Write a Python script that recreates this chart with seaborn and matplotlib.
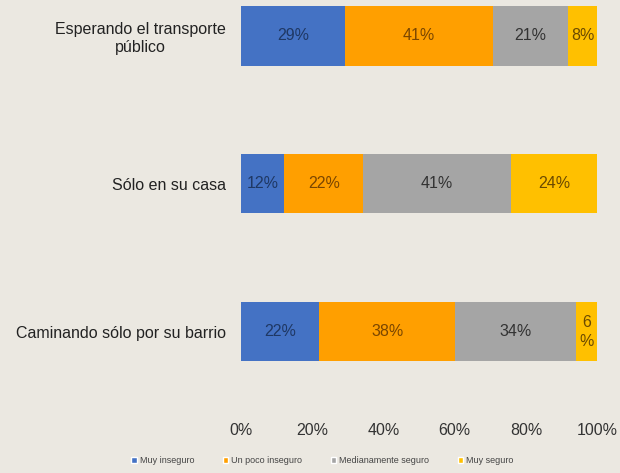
import numpy as np
import pandas as pd
import matplotlib
matplotlib.use("Agg")
import matplotlib.pyplot as plt
import seaborn as sns
from matplotlib.patches import Patch

# data
situaciones = ["Esperando el transporte\npúblico", "Sólo en su casa", "Caminando sólo por su barrio"]
niveles = ["Muy inseguro", "Un poco inseguro", "Medianamente seguro", "Muy seguro"]
muy_inseguro = [29, 12, 22]
poco_inseguro = [41, 22, 38]
medianamente = [21, 41, 34]
muy_seguro = [8, 24, 6]
etiquetas_ultimo = ["8%", "24%", "6\n%"]

colores = ["#4472C4", "#FF9F00", "#A5A5A5", "#FFC000"]
colores_txt = ["#1F3864", "#7A4600", "#333333", "#6B4A00"]
fondo = "#EBE8E1"

df = pd.DataFrame({
    "situacion": situaciones,
    niveles[0]: muy_inseguro,
    niveles[1]: poco_inseguro,
    niveles[2]: medianamente,
    niveles[3]: muy_seguro,
})
# 100% stacked: rounded labels don't always sum to 100, so scale each row
share = df[niveles].div(df[niveles].sum(axis=1), axis=0) * 100
cum = share.cumsum(axis=1)

sns.set_theme(style="white")
plt.rcParams["font.family"] = ["Liberation Sans", "DejaVu Sans"]

fig = plt.figure(figsize=(6.2, 4.73), dpi=100, facecolor=fondo)
ax = fig.add_axes([0.389, 0.133, 0.574, 0.867])
ax.set_facecolor(fondo)

# stacked bars: draw cumulative totals from the largest down
for i in range(len(niveles) - 1, -1, -1):
    sns.barplot(x=cum[niveles[i]], y=df["situacion"], orient="h", color=colores[i],
                width=0.4, ax=ax, saturation=1, linewidth=0)

# value labels
for r in range(len(situaciones)):
    for i, nivel in enumerate(niveles):
        mid = cum.loc[r, nivel] - share.loc[r, nivel] / 2
        txt = etiquetas_ultimo[r] if i == 3 else f"{df.loc[r, nivel]}%"
        ax.text(mid, r, txt, ha="center", va="center", fontsize=11.5,
                color=colores_txt[i], linespacing=1.3)

ax.set_xlim(0, 100)
ax.set_ylim(2.53, -0.243)
ax.set_xticks([0, 20, 40, 60, 80, 100])
ax.set_xticklabels(["0%", "20%", "40%", "60%", "80%", "100%"])
ax.tick_params(axis="x", length=0, pad=9, labelsize=11.5, colors="#333333")
ax.tick_params(axis="y", length=0, pad=11, labelsize=11.5, colors="#222222")
for lbl in ax.get_yticklabels():
    lbl.set_multialignment("center")
ax.set_xlabel("")
ax.set_ylabel("")
sns.despine(ax=ax, left=True, bottom=True)

handles = [Patch(facecolor=c, label=n) for c, n in zip(colores, niveles)]
fig.legend(handles=handles, loc="lower center", bbox_to_anchor=(0.52, 0.0), ncol=4,
           frameon=False, fontsize=6.5, handlelength=0.6, handleheight=0.6,
           handletextpad=0.3, columnspacing=3.2, labelcolor="#444444")

fig.savefig("out.png", dpi=100, facecolor=fondo)
